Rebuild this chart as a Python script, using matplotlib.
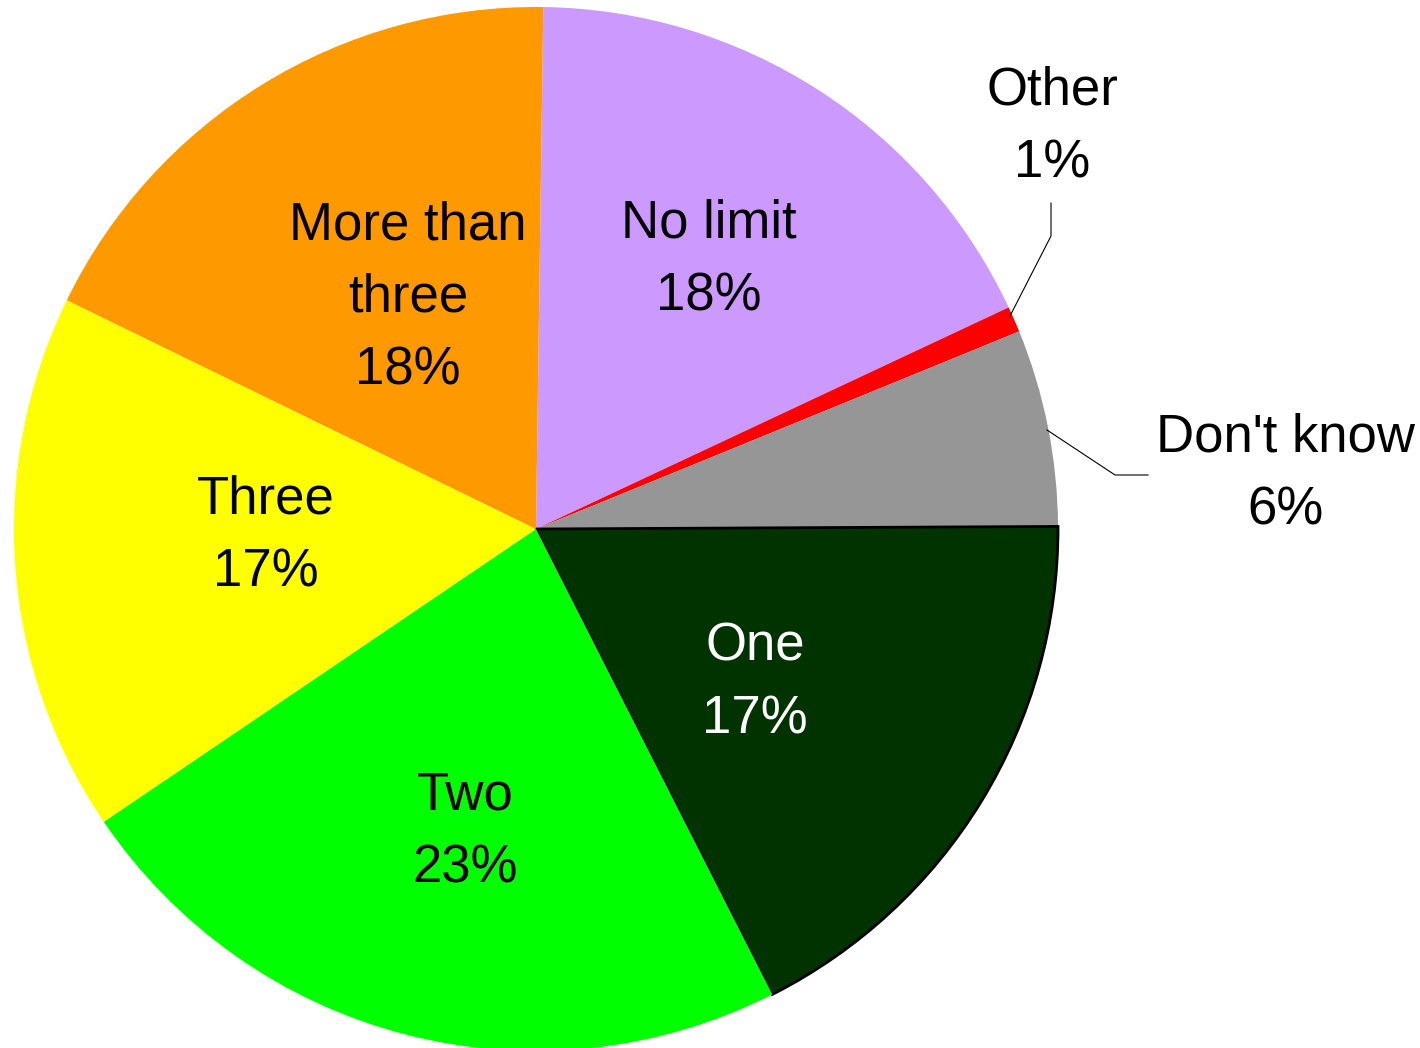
import matplotlib
matplotlib.use("Agg")
import matplotlib.pyplot as plt

# Data (clockwise from top)
categories = ["No limit", "Other", "Don't know", "One", "Two", "Three", "More than\nthree"]
values = [17.8, 0.8, 6.1, 17.6, 23.0, 16.7, 18.0]
pct_labels = ["18%", "1%", "6%", "17%", "23%", "17%", "18%"]
colors = ["#CC99FF", "#FF0000", "#969696", "#003300", "#00FF00", "#FFFF00", "#FF9900"]

W, H = 1420, 1048
fig = plt.figure(figsize=(W / 100, H / 100), dpi=100)
ax = fig.add_axes([0, 0, 1, 1])

def Y(y):
    return H - y

cx, cy, r = 536, Y(529), 522
wedges, _ = ax.pie(values, colors=colors, startangle=89.2, counterclock=False,
                   center=(cx, cy), radius=r, frame=True,
                   wedgeprops=dict(linewidth=0, edgecolor="none"))
ax.set_xlim(0, W)
ax.set_ylim(0, H)
ax.set_aspect("equal")
ax.axis("off")
wedges[3].set_edgecolor("black")
wedges[3].set_linewidth(2)

font = dict(family=["Liberation Sans", "DejaVu Sans"], fontsize=38, ha="center", va="center")
label_pos = {
    0: (709, 260),
    1: (1052, 127),
    2: (1285, 474),
    3: (755, 683),
    4: (465, 832),
    5: (266, 536),
    6: (408, 298),
}
for i, (cat, pct) in enumerate(zip(categories, pct_labels)):
    x, y = label_pos[i]
    color = "white" if i == 3 else "black"
    ax.text(x, Y(y), f"{cat}\n{pct}", color=color, linespacing=1.58, **font)

# leader lines
ax.plot([1010, 1051, 1051], [Y(316), Y(236), Y(203)], color="black", lw=0.8)
ax.plot([1047, 1115, 1148], [Y(430), Y(475), Y(475)], color="black", lw=0.8)

fig.savefig("out.png", dpi=100)
